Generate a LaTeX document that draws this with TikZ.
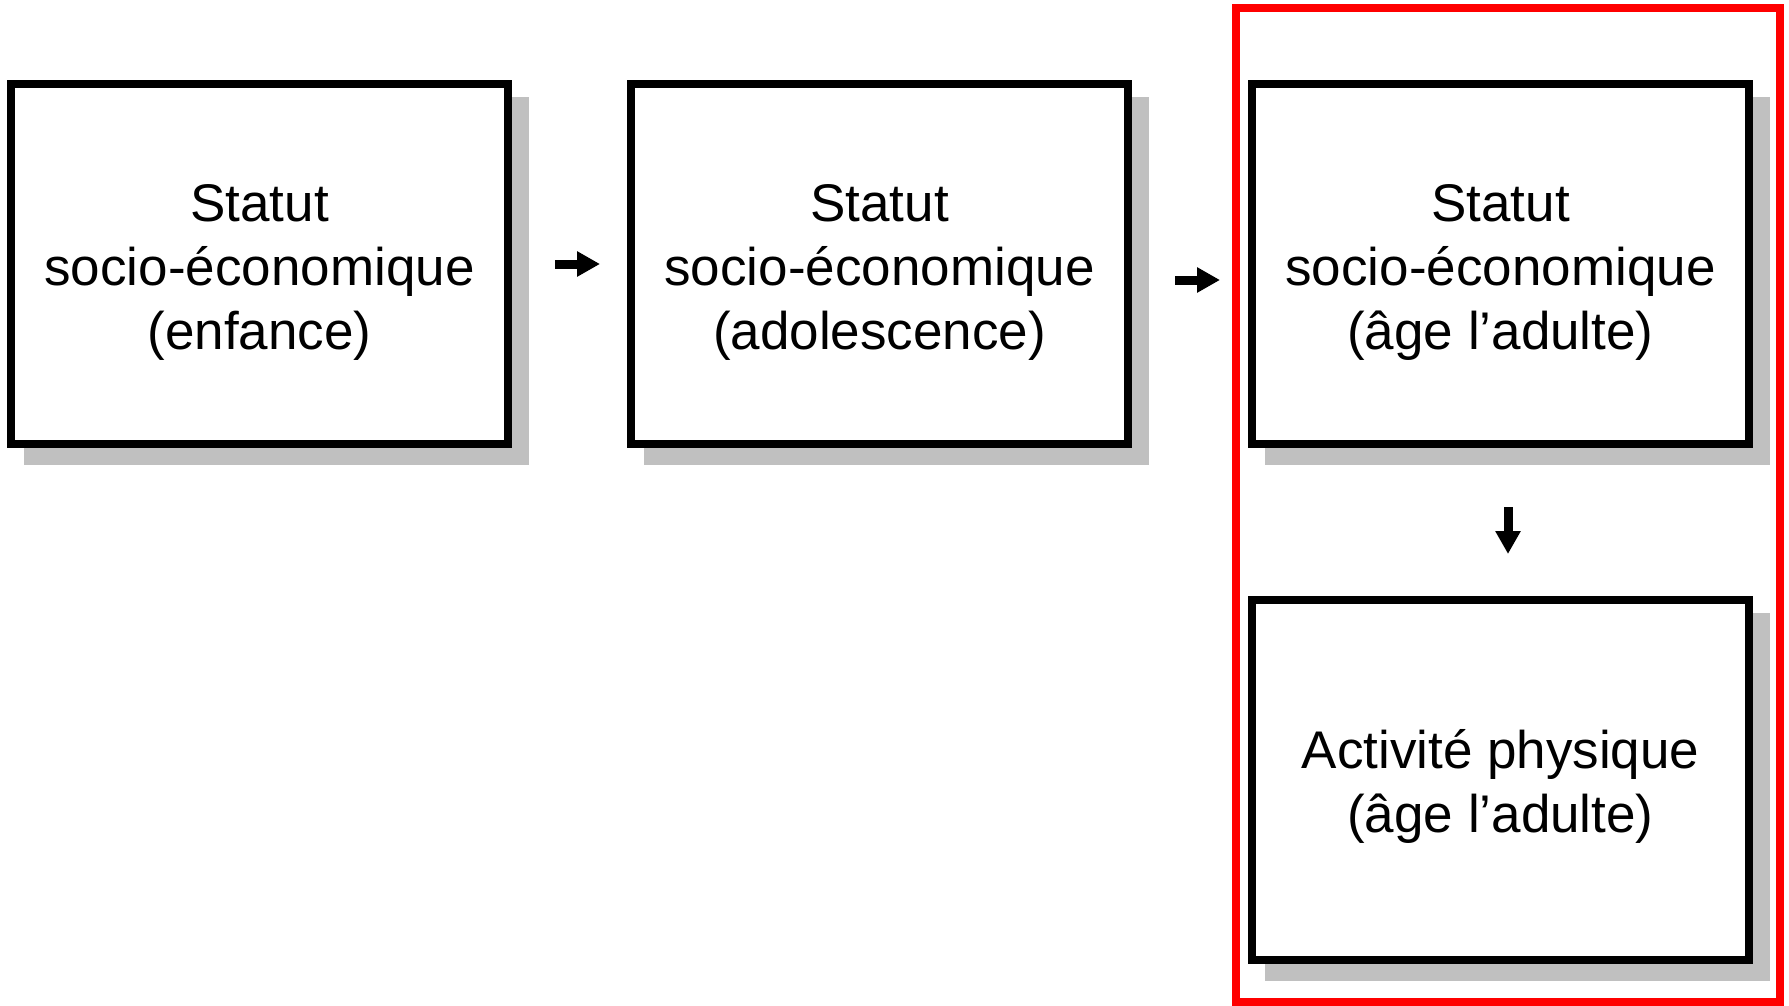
\documentclass[tikz,border=0pt]{standalone}
\usepackage{fontspec}
\setmainfont{Liberation Sans}
\usetikzlibrary{arrows.meta,backgrounds}
\definecolor{shadowgray}{HTML}{C0C0C0}
\tikzset{
  stagebox/.style={draw=black, fill=white, line width=8pt, inner sep=0pt,
    minimum width=497pt, minimum height=360pt},
  boxtext/.style={inner sep=0pt, align=center,
    font=\fontsize{53pt}{64pt}\selectfont},
  arr/.style={line width=9pt, -{Triangle[length=23pt,width=24pt]}},
  boxshadow/.style={fill=shadowgray},
  grpframe/.style={draw=red, line width=8pt}
}
\begin{document}
\begin{tikzpicture}[x=1pt,y=-1pt]
\useasboundingbox (0,0) rectangle (1789,1006);
\node[stagebox] (b1) at (259.5,264) {};
\node[stagebox] (b2) at (879.5,264) {};
\node[stagebox] (b3) at (1500.5,264) {};
\node[stagebox] (b4) at (1500.5,780) {};
\node[boxtext] (t1) at ([yshift=-8pt]b1.center) {Statut\\socio-économique\\(enfance)};
\node[boxtext] (t2) at ([yshift=-8pt]b2.center) {Statut\\socio-économique\\(adolescence)};
\node[boxtext] (t3) at ([yshift=-8pt]b3.center) {Statut\\socio-économique\\(âge l’adulte)};
\node[boxtext] (t4) at ([yshift=-6pt]b4.center) {Activité physique\\(âge l’adulte)};
\begin{scope}[on background layer]
  \foreach \b in {b1,b2,b3,b4}{
    \fill[boxshadow] ([shift={(17pt,-17pt)}]\b.south west) rectangle ([shift={(17pt,-17pt)}]\b.north east);
  }
\end{scope}
\draw[grpframe] (1236,8) rectangle (1780,1002);
\draw[arr, shorten <=43pt, shorten >=27pt] (b1.east) -- (b2.west);
\draw[arr, shorten <=43pt, shorten >=28pt] ([yshift=-16pt]b2.east) -- ([yshift=-16pt]b3.west);
\draw[arr, shorten <=59pt, shorten >=42pt] ([xshift=7.5pt]b3.south) -- ([xshift=7.5pt]b4.north);
\end{tikzpicture}
\end{document}
